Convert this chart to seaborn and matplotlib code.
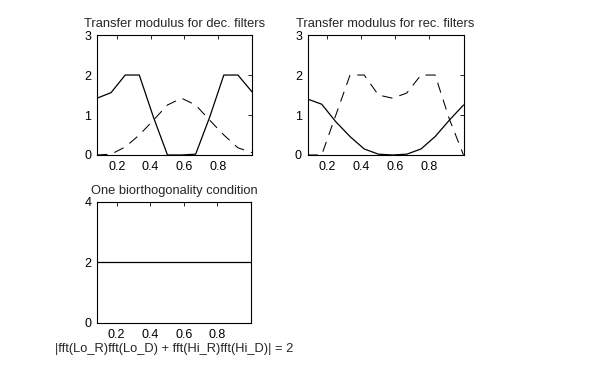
import matplotlib
matplotlib.use('Agg')
import matplotlib.pyplot as plt
import seaborn as sns
import numpy as np

# frequency grid (k/12, k = 1..12)
freq = [1/12, 2/12, 3/12, 4/12, 5/12, 6/12, 7/12, 8/12, 9/12, 10/12, 11/12, 12/12]

# decomposition filters: low-pass (solid) / high-pass (dashed)
dec_lo = [1.42, 1.56, 2.0, 2.0, 0.95, 0.0, 0.0, 0.02, 0.95, 2.0, 2.0, 1.58]
dec_hi = [0.0, 0.02, 0.2, 0.5, 0.87, 1.25, 1.42, 1.25, 0.87, 0.5, 0.18, 0.06]

# reconstruction filters: low-pass (solid) / high-pass (dashed)
rec_lo = [1.40, 1.27, 0.83, 0.46, 0.15, 0.02, 0.0, 0.02, 0.15, 0.46, 0.87, 1.25]
rec_hi = [0.0, 0.0, 1.0, 2.0, 2.0, 1.5, 1.42, 1.55, 2.0, 2.0, 0.9, 0.0]

# biorthogonality condition
bio = [2, 2, 2, 2, 2, 2, 2, 2, 2, 2, 2, 2]

xticks = [0.2, 0.4, 0.6, 0.8]
xticklabels = ["0.2", "0.4", "0.6", "0.8"]

sns.set_style("white")
plt.rcParams['font.family'] = ['Liberation Sans', 'DejaVu Sans']
plt.rcParams['font.size'] = 9

fig = plt.figure(figsize=(6, 3.69), dpi=100)
ax1 = fig.add_axes([0.1617, 0.58, 0.2583, 0.325])
ax2 = fig.add_axes([0.5125, 0.58, 0.26, 0.325])
ax3 = fig.add_axes([0.1617, 0.1247, 0.2567, 0.328])

dash = (0, (10, 7))


def style(ax, ymax, yticks, title):
    ax.set_xlim(freq[0], freq[-1])
    ax.set_ylim(0, ymax)
    ax.set_xticks(xticks)
    ax.set_xticklabels(xticklabels)
    ax.set_yticks(yticks)
    ax.set_yticklabels([str(t) for t in yticks])
    ax.tick_params(direction='in', length=3, width=0.6, top=True, right=True,
                   labelsize=9, colors='black', pad=4)
    for s in ax.spines.values():
        s.set_color('black')
        s.set_linewidth(0.8)
        s.set_visible(True)
    ax.set_title(title, fontsize=9.3, pad=6)
    ax.set_xlabel("")
    ax.set_ylabel("")
    leg = ax.get_legend()
    if leg:
        leg.remove()


sns.lineplot(x=freq, y=dec_lo, ax=ax1, color='black', lw=0.9)
sns.lineplot(x=freq, y=dec_hi, ax=ax1, color='black', lw=0.75, linestyle=dash)
style(ax1, 3, [0, 1, 2, 3], "Transfer modulus for dec. filters")

sns.lineplot(x=freq, y=rec_lo, ax=ax2, color='black', lw=0.9)
sns.lineplot(x=freq, y=rec_hi, ax=ax2, color='black', lw=0.75, linestyle=dash)
style(ax2, 3, [0, 1, 2, 3], "Transfer modulus for rec. filters")

sns.lineplot(x=freq, y=bio, ax=ax3, color='black', lw=0.9)
style(ax3, 4, [0, 2, 4], "One biorthogonality condition")
ax3.set_xlabel("|fft(Lo_R)fft(Lo_D) + fft(Hi_R)fft(Hi_D)| = 2", fontsize=9.3, labelpad=2)

fig.savefig("out.png", dpi=100, facecolor='white')
